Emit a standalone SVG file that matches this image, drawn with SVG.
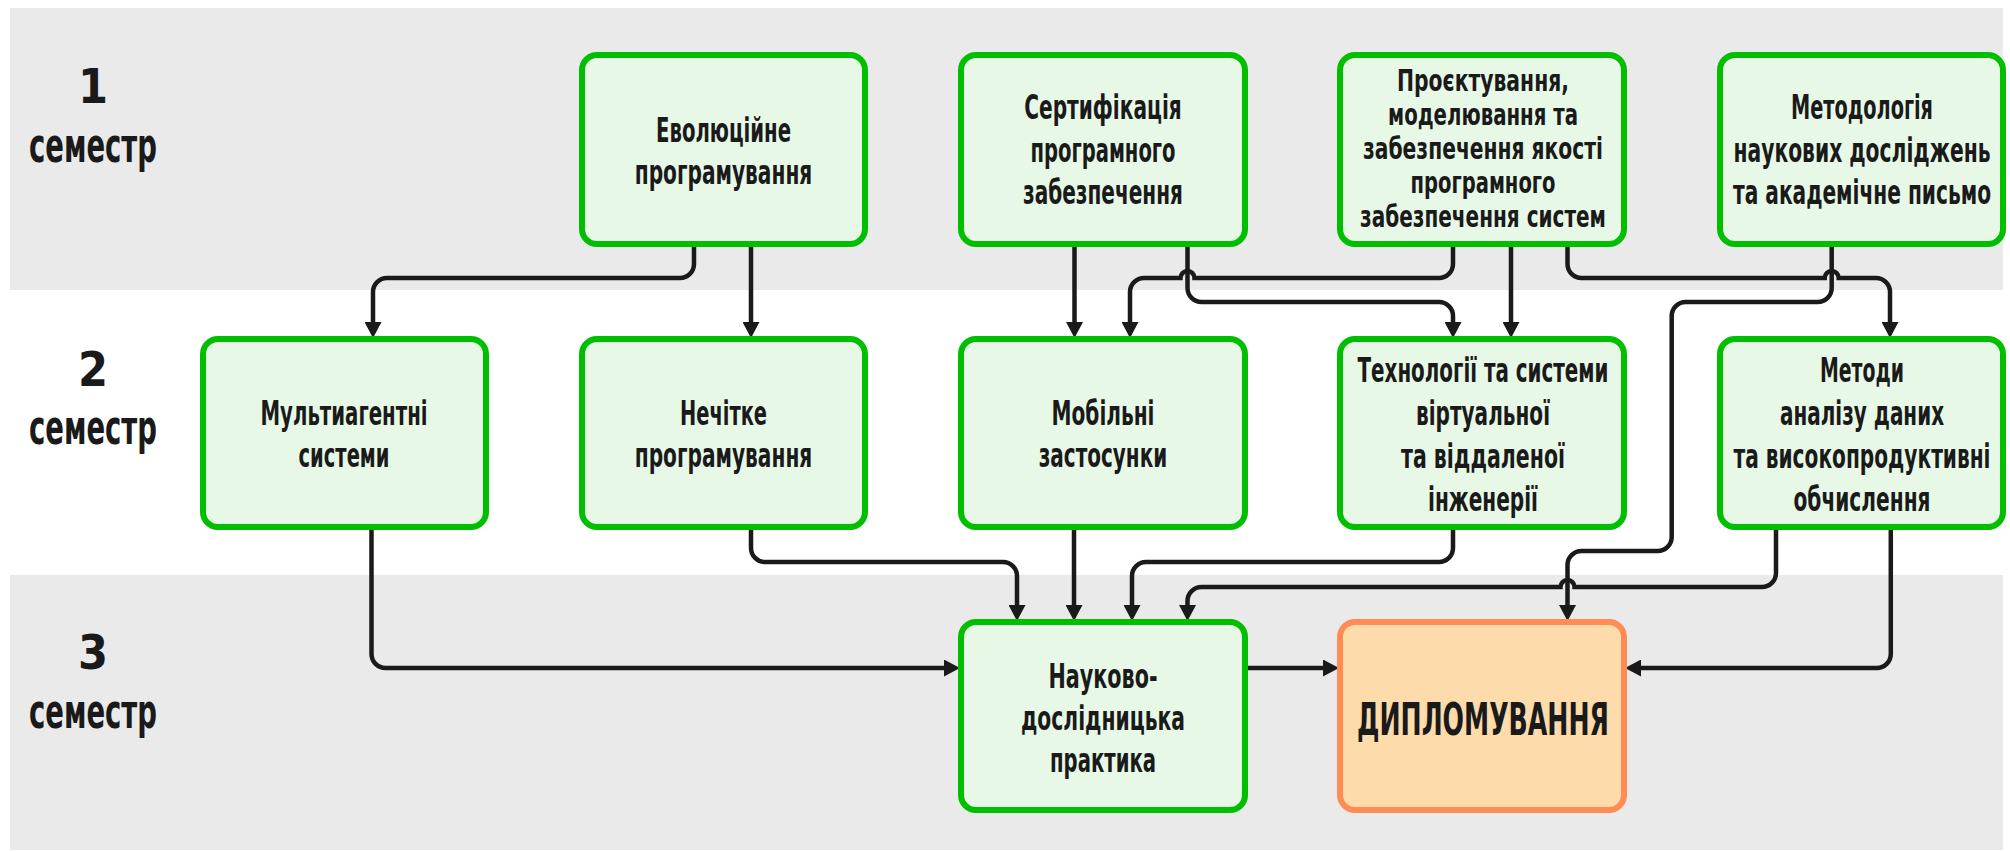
<svg xmlns="http://www.w3.org/2000/svg" width="2010" height="852" viewBox="0 0 2010 852">
<style>
.band{fill:#EAEAEA}
.node rect{fill:#E7F9E6;stroke:#00BE00;stroke-width:6}
.final rect{fill:#FDDBAB;stroke:#FF8B55;stroke-width:6}
text{font-family:"DejaVu Sans Condensed","DejaVu Sans","Liberation Sans",sans-serif;font-stretch:condensed;font-weight:bold;fill:#1A1A1A;text-anchor:middle}
.t{font-size:34px}
.ts{font-size:30px}
.sem{font-size:48px}
.big{font-size:45px}
.conn path{fill:none;stroke:#1A1A1A;stroke-width:4.5;marker-end:url(#arr)}
</style>
<defs>
<marker id="arr" markerUnits="userSpaceOnUse" viewBox="0 -8.5 16 17" refX="2" refY="0" markerWidth="16" markerHeight="17" orient="auto">
<path d="M0,-8.5 L16,0 L0,8.5 z" fill="#1A1A1A"/>
</marker>
</defs>
<g id="bands">
<rect class="band" x="10" y="8" width="1993" height="282"/>
<rect class="band" x="10" y="575" width="1993" height="275"/>
</g>
<g id="semesters">
<g id="sem1"><text class="sem" x="93" y="103">1</text><text class="sem" x="93" y="162" textLength="128" lengthAdjust="spacingAndGlyphs">семестр</text></g>
<g id="sem2"><text class="sem" x="93" y="386">2</text><text class="sem" x="93" y="444" textLength="128" lengthAdjust="spacingAndGlyphs">семестр</text></g>
<g id="sem3"><text class="sem" x="93" y="669">3</text><text class="sem" x="93" y="728" textLength="128" lengthAdjust="spacingAndGlyphs">семестр</text></g>
</g>
<g id="connectors" class="conn">
<path d="M694,247 V264 A14,14 0 0 1 680,278 H387 A14,14 0 0 0 373,292 V324"/>
<path d="M751,247 V324"/>
<path d="M1074.5,247 V324"/>
<path d="M1187.5,247 V288 A14,14 0 0 0 1201.5,302 H1439 A14,14 0 0 1 1453,316 V324"/>
<path d="M1453,247 V264 A14,14 0 0 1 1439,278 H1194.5 A7,7 0 0 0 1180.5,278 H1144 A14,14 0 0 0 1130,292 V324"/>
<path d="M1511,247 V324"/>
<path d="M1567.5,247 V264 A14,14 0 0 0 1581.5,278 H1824.7 A7,7 0 0 1 1838.7,278 H1876 A14,14 0 0 1 1890,292 V324"/>
<path d="M1831.7,247 V288 A14,14 0 0 1 1817.7,302 H1685.7 A14,14 0 0 0 1671.7,316 V537 A14,14 0 0 1 1657.7,551 H1581.5 A14,14 0 0 0 1567.5,565 V607"/>
<path d="M371.5,530 V654 A14,14 0 0 0 385.5,668 H946"/>
<path d="M751,530 V548 A14,14 0 0 0 765,562 H1003 A14,14 0 0 1 1017,576 V607"/>
<path d="M1074,530 V607"/>
<path d="M1453,530 V548 A14,14 0 0 1 1439,562 H1146 A14,14 0 0 0 1132,576 V607"/>
<path d="M1776,530 V573 A14,14 0 0 1 1762,587 H1574.5 A7,7 0 0 0 1560.5,587 H1201.5 A14,14 0 0 0 1187.5,601 V607"/>
<path d="M1890.8,530 V654 A14,14 0 0 1 1876.8,668 H1639"/>
<path d="M1248,668 H1325"/>
</g>
<g id="n-evol" class="node"><rect x="582" y="55" width="283" height="189" rx="15"/>
<text class="t" x="723.5" y="141.5" textLength="135" lengthAdjust="spacingAndGlyphs">Еволюційне</text>
<text class="t" x="723.5" y="184" textLength="177.5" lengthAdjust="spacingAndGlyphs">програмування</text></g>
<g id="n-sert" class="node"><rect x="961" y="55" width="284" height="189" rx="15"/>
<text class="t" x="1103" y="119" textLength="157.5" lengthAdjust="spacingAndGlyphs">Сертифікація</text>
<text class="t" x="1103" y="161.5" textLength="145" lengthAdjust="spacingAndGlyphs">програмного</text>
<text class="t" x="1103" y="204" textLength="160" lengthAdjust="spacingAndGlyphs">забезпечення</text></g>
<g id="n-proekt" class="node"><rect x="1340" y="55" width="284" height="189" rx="15"/>
<text class="ts" x="1483" y="90.5" textLength="172" lengthAdjust="spacingAndGlyphs">Проєктування,</text>
<text class="ts" x="1483" y="124.5" textLength="190" lengthAdjust="spacingAndGlyphs">моделювання та</text>
<text class="ts" x="1483" y="158.5" textLength="240" lengthAdjust="spacingAndGlyphs">забезпечення якості</text>
<text class="ts" x="1483" y="192.5" textLength="145" lengthAdjust="spacingAndGlyphs">програмного</text>
<text class="ts" x="1483" y="226.5" textLength="246" lengthAdjust="spacingAndGlyphs">забезпечення систем</text></g>
<g id="n-metodol" class="node"><rect x="1720" y="55" width="283" height="189" rx="15"/>
<text class="t" x="1862" y="119" textLength="142" lengthAdjust="spacingAndGlyphs">Методологія</text>
<text class="t" x="1862" y="161.5" textLength="257" lengthAdjust="spacingAndGlyphs">наукових досліджень</text>
<text class="t" x="1862" y="204" textLength="258" lengthAdjust="spacingAndGlyphs">та академічне письмо</text></g>
<g id="n-multi" class="node"><rect x="203" y="339" width="283" height="188" rx="15"/>
<text class="t" x="344" y="424.5" textLength="167" lengthAdjust="spacingAndGlyphs">Мультиагентні</text>
<text class="t" x="344" y="467" textLength="91" lengthAdjust="spacingAndGlyphs">системи</text></g>
<g id="n-nechitke" class="node"><rect x="582" y="339" width="283" height="188" rx="15"/>
<text class="t" x="723.5" y="424.5" textLength="87" lengthAdjust="spacingAndGlyphs">Нечітке</text>
<text class="t" x="723.5" y="467" textLength="177.5" lengthAdjust="spacingAndGlyphs">програмування</text></g>
<g id="n-mobil" class="node"><rect x="961" y="339" width="284" height="188" rx="15"/>
<text class="t" x="1103" y="424.5" textLength="103" lengthAdjust="spacingAndGlyphs">Мобільні</text>
<text class="t" x="1103" y="467" textLength="128.5" lengthAdjust="spacingAndGlyphs">застосунки</text></g>
<g id="n-techno" class="node"><rect x="1340" y="339" width="284" height="188" rx="15"/>
<text class="t" x="1483" y="381.5" textLength="251" lengthAdjust="spacingAndGlyphs">Технології та системи</text>
<text class="t" x="1483" y="424.5" textLength="134" lengthAdjust="spacingAndGlyphs">віртуальної</text>
<text class="t" x="1483" y="467.5" textLength="164" lengthAdjust="spacingAndGlyphs">та віддаленої</text>
<text class="t" x="1483" y="510.5" textLength="110" lengthAdjust="spacingAndGlyphs">інженерії</text></g>
<g id="n-metody" class="node"><rect x="1720" y="339" width="283" height="188" rx="15"/>
<text class="t" x="1862" y="381.5" textLength="84" lengthAdjust="spacingAndGlyphs">Методи</text>
<text class="t" x="1862" y="424.5" textLength="164" lengthAdjust="spacingAndGlyphs">аналізу даних</text>
<text class="t" x="1862" y="467.5" textLength="257" lengthAdjust="spacingAndGlyphs">та високопродуктивні</text>
<text class="t" x="1862" y="510.5" textLength="137" lengthAdjust="spacingAndGlyphs">обчислення</text></g>
<g id="n-naukovo" class="node"><rect x="961" y="622" width="284" height="188" rx="15"/>
<text class="t" x="1103" y="687.5" textLength="109" lengthAdjust="spacingAndGlyphs">Науково-</text>
<text class="t" x="1103" y="729.5" textLength="164" lengthAdjust="spacingAndGlyphs">дослідницька</text>
<text class="t" x="1103" y="771.5" textLength="106" lengthAdjust="spacingAndGlyphs">практика</text></g>
<g id="n-diplom" class="final"><rect x="1340" y="622" width="284" height="188" rx="15"/>
<text class="big" x="1483" y="734.5" textLength="252" lengthAdjust="spacingAndGlyphs">ДИПЛОМУВАННЯ</text></g>
</svg>
